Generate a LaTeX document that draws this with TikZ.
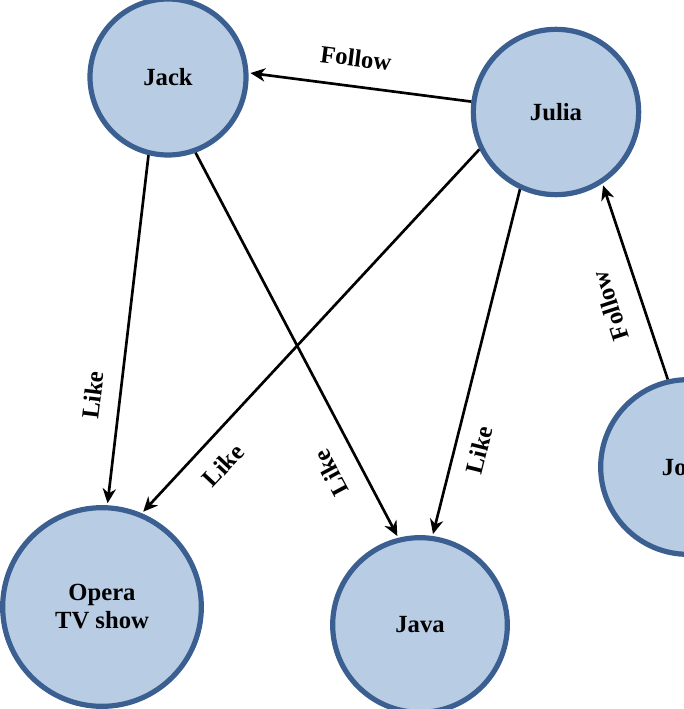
\documentclass[tikz,border=0pt]{standalone}
\usepackage{fontspec}
\setmainfont{Liberation Serif}
\usetikzlibrary{arrows.meta}
\definecolor{nodefill}{HTML}{B8CCE4}
\definecolor{nodeborder}{HTML}{3A5F90}
\begin{document}
\begin{tikzpicture}[x=0.75pt,y=-0.75pt,
  person/.style={circle,draw=nodeborder,fill=nodefill,line width=3.9pt,
    inner sep=0pt,align=center,font=\fontsize{18.5}{21}\selectfont\bfseries},
  conn/.style={line width=2pt,-{Stealth[length=11pt,width=10pt,inset=3.5pt]},shorten >=1.5pt},
  lbl/.style={font=\fontsize{18.5}{21}\selectfont\bfseries,inner sep=0pt}]
\useasboundingbox (0,0) rectangle (684,709);
\node[person,minimum size=117pt] (jack) at (168,77) {Jack};
\node[person,minimum size=124pt] (julia) at (556,112) {Julia};
\node[person,minimum size=131pt] (john) at (688,467) {John};
\node[person,minimum size=149pt] (opera) at (102,607) {Opera\\TV show};
\node[person,minimum size=131pt] (java) at (420,625) {Java};

\draw[conn] (julia.173) -- (jack.3);
\draw[conn] (jack.256) -- (opera.87.6);
\draw[conn] (jack.290) -- (java.104);
\draw[conn] (julia.206) -- (opera.67);
\draw[conn] (julia.245) -- (java.82);
\draw[conn] (john.103.6) -- (julia.303);

\node[lbl,rotate=-7] (l1) at (356,58) {Follow};
\node[lbl,rotate=83] (l2) at (93,395) {Like};
\node[lbl,rotate=118] (l3) at (331,473) {Like};
\node[lbl,rotate=47] (l4) at (223,465) {Like};
\node[lbl,rotate=76] (l5) at (479,450) {Like};
\node[lbl,rotate=108] (l6) at (610,306) {Follow};
\end{tikzpicture}
\end{document}
